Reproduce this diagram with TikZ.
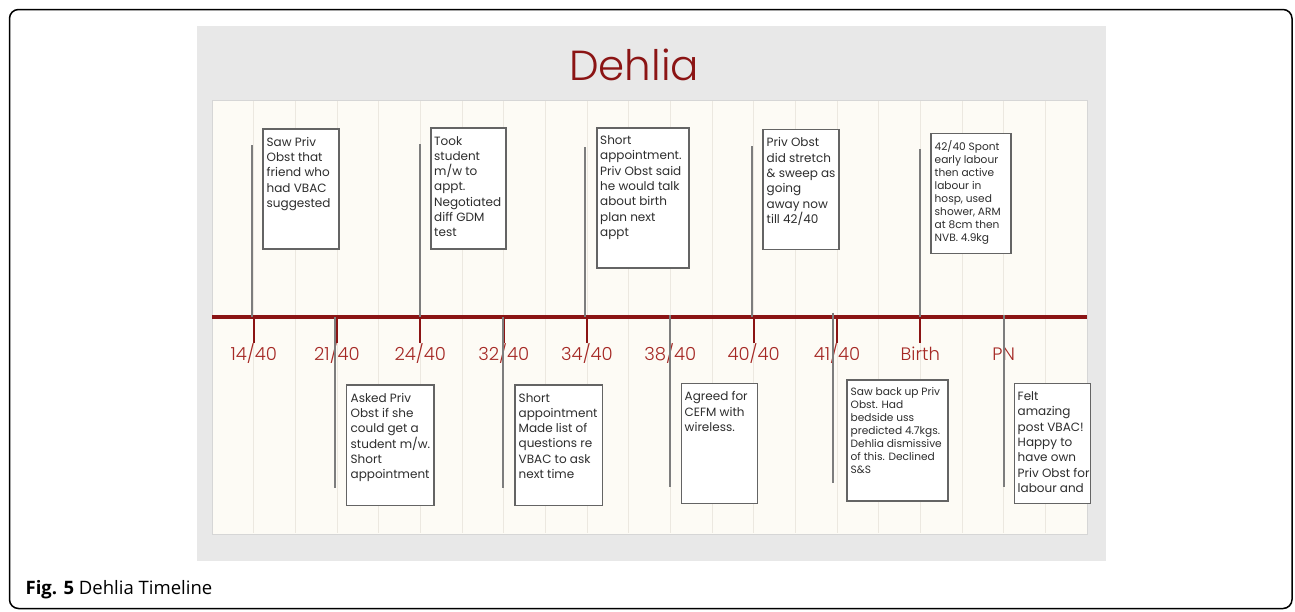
\documentclass[tikz,border=0pt]{standalone}
\usepackage{fontspec}
\setmainfont{Poppins}
\newfontfamily\lightfont{Poppins}[UprightFont=* Light]
\newfontfamily\capfont{Open Sans}
\definecolor{panelgray}{RGB}{232,232,232}
\definecolor{cream}{RGB}{253,251,245}
\definecolor{creamedge}{RGB}{214,214,214}
\definecolor{gridc}{RGB}{236,232,224}
\definecolor{linered}{RGB}{139,20,20}
\definecolor{labred}{RGB}{165,40,36}
\definecolor{stemgray}{RGB}{125,125,125}
\definecolor{boxgray}{RGB}{100,100,100}
\definecolor{txtgray}{RGB}{45,45,45}
\tikzset{
  frame/.style={draw=black, line width=1.5pt, rounded corners=9pt},
  gridline/.style={draw=gridc, line width=0.9pt},
  timeline/.style={draw=linered, line width=3.8pt},
  tickmark/.style={draw=linered, line width=2.2pt},
  stem/.style={draw=stemgray, line width=2pt},
  datelab/.style={anchor=base, inner sep=0pt, text=labred, font=\lightfont\fontsize{18}{20}\selectfont},
  notebox/.style={draw=boxgray, fill=white, line width=1.6pt, anchor=north west, inner sep=0pt},
  note/.style={anchor=north west, inner sep=0pt, align=left, text=txtgray, font=\fontsize{12}{15.3}\selectfont},
  smallnote/.style={note, font=\fontsize{10.6}{13}\selectfont},
}
\begin{document}
\begin{tikzpicture}[x=1pt,y=-1pt]
\useasboundingbox (0,0) rectangle (1295,611);
% page frame and slide panels
\draw[frame] (9.5,9.5) rectangle (1292,608.5);
\fill[panelgray] (197,26) rectangle (1106,561);
\filldraw[fill=cream, draw=creamedge, line width=0.8pt] (212,100) rectangle (1087,534);
\foreach \k in {1,...,20} \draw[gridline] ({212+41.667*\k},100.6) -- ({212+41.667*\k},533.4);

% title
\node[anchor=base, inner sep=0pt, text=linered, font=\lightfont\fontsize{42}{48}\selectfont] (title) at (634,80) {Dehlia};

% time axis
\coordinate (axisL) at (212,317);
\coordinate (axisR) at (1087,317);
\draw[timeline] (axisL) -- (axisR);

% ticks and date labels
\foreach \name/\xx in {t1/253.7, t2/337, t3/420.3, t4/503.7, t5/587, t6/670.3, t7/753.7, t8/837, t9/920.3, t10/1003.7} {
  \coordinate (\name) at (\xx,317);
  \draw[tickmark] (\name) -- ++(0,26);
}
\node[datelab] (l1)  at (253.7,360) {14/40};
\node[datelab] (l2)  at (337,360)   {21/40};
\node[datelab] (l3)  at (420.3,360) {24/40};
\node[datelab] (l4)  at (503.7,360) {32/40};
\node[datelab] (l5)  at (587,360)   {34/40};
\node[datelab] (l6)  at (670.3,360) {38/40};
\node[datelab] (l7)  at (753.7,360) {40/40};
\node[datelab] (l8)  at (837,360)   {41/40};
\node[datelab] (l9)  at (920.3,360) {Birth};
\node[datelab] (l10) at (1003.7,360){PN};

% stems above the axis
\foreach \name/\xx/\yy in {u1/252/145, u2/420.3/144, u3/584.5/146.5, u4/752.3/145.5, u5/919.7/149} {
  \coordinate (\name-a) at (\xx,317);
  \coordinate (\name-b) at (\xx,\yy);
  \draw[stem] (\name-a) -- (\name-b);
}
% stems below the axis
\foreach \name/\xx/\ya/\yb in {d1/335/317/488, d2/503/317/488, d3/670.3/315/486.5, d4/832.7/312.5/483, d5/1003.5/314.5/486.5} {
  \coordinate (\name-a) at (\xx,\ya);
  \coordinate (\name-b) at (\xx,\yb);
  \draw[stem] (\name-a) -- (\name-b);
}

% note boxes above the axis
\node[notebox, minimum width=76pt, minimum height=120pt] (b1) at (262,128) {};
\node[note] (n1) at (266.5,137) {Saw Priv\\Obst that\\friend who\\had VBAC\\suggested};
\node[notebox, minimum width=75pt, minimum height=121pt] (b2) at (430,127) {};
\node[note] (n2) at (434,136) {Took\\student\\m/w to\\appt.\\Negotiated\\diff GDM\\test};
\node[notebox, minimum width=92pt, minimum height=140pt] (b3) at (596,127) {};
\node[note] (n3) at (600,135.5) {Short\\appointment.\\Priv Obst said\\he would talk\\about birth\\plan next\\appt};
\node[notebox, minimum width=76pt, minimum height=120pt] (b4) at (762,128.5) {};
\node[note] (n4) at (766.5,137.5) {Priv Obst\\did stretch\\\&\ sweep as\\going\\away now\\till 42/40};
\node[notebox, minimum width=80pt, minimum height=120pt] (b5) at (930,132.5) {};
\node[smallnote] (n5) at (934.5,140) {42/40 Spont\\early labour\\then active\\labour in\\hosp, used\\shower, ARM\\at 8cm then\\NVB. 4.9kg};

% note boxes below the axis
\node[notebox, minimum width=87.5pt, minimum height=120.5pt] (b6) at (345.8,384.2) {};
\node[note] (n6) at (350.5,393) {Asked Priv\\Obst if she\\could get a\\student m/w.\\Short\\appointment};
\node[notebox, minimum width=87.5pt, minimum height=120.5pt] (b7) at (514.3,384.2) {};
\node[note] (n7) at (518.5,393) {Short\\appointment\\Made list of\\questions re\\VBAC to ask\\next time};
\node[notebox, minimum width=76pt, minimum height=120pt] (b8) at (680.5,382.8) {};
\node[note] (n8) at (684.5,391.5) {Agreed for\\CEFM with\\wireless.};
\node[notebox, minimum width=101pt, minimum height=121pt] (b9) at (846,379.3) {};
\node[smallnote] (n9) at (850.5,387) {Saw back up Priv\\Obst. Had\\bedside uss\\predicted 4.7kgs.\\Dehlia dismissive\\of this. Declined\\S\&S};
\node[notebox, minimum width=76pt, minimum height=120pt] (b10) at (1013.5,382.8) {};
\node[note] (n10) at (1017.5,391.5) {Felt\\amazing\\post VBAC!\\Happy to\\have own\\Priv Obst for\\labour and};

% caption
\node[anchor=base west, inner sep=0pt, font=\capfont\fontsize{18.5}{22}\selectfont] (caption) at (25.5,594) {\textbf{Fig. 5} Dehlia Timeline};
\end{tikzpicture}
\end{document}
